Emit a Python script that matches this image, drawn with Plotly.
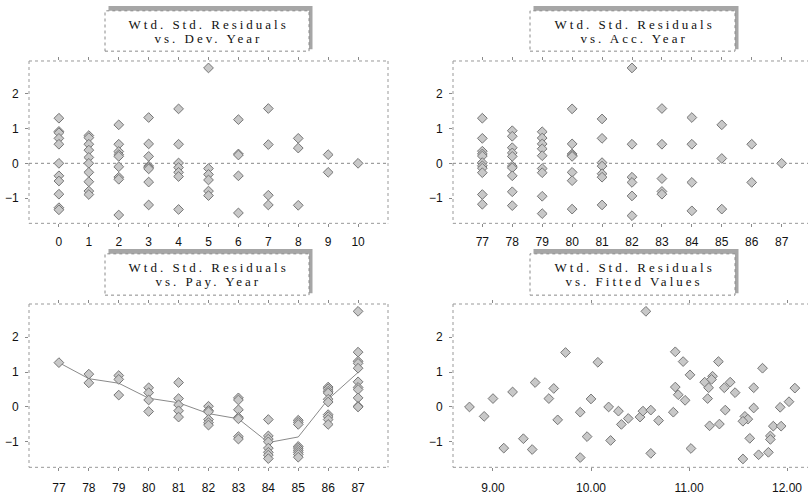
import plotly.graph_objects as go

W, H = 808, 495

# ---------------- data ----------------
dev_years = list(range(11))
dev_resid = [
    [1.30, 0.92, 0.88, 0.72, 0.55, 0.00, -0.36, -0.51, -0.89, -1.28, -1.34],
    [0.80, 0.74, 0.55, 0.38, 0.17, 0.00, -0.26, -0.53, -0.80, -0.90],
    [1.11, 0.55, 0.34, 0.25, 0.20, -0.10, -0.40, -0.46, -1.49],
    [1.32, 0.56, 0.20, -0.08, -0.12, -0.16, -0.54, -1.20],
    [1.57, 0.55, 0.01, -0.12, -0.26, -0.38, -1.33],
    [2.75, -0.15, -0.32, -0.48, -0.80, -0.93],
    [1.26, 0.27, 0.24, -0.36, -1.43],
    [1.58, 0.54, -0.92, -1.20],
    [0.72, 0.44, -1.21],
    [0.25, -0.26],
    [0.00],
]

acc_years = list(range(77, 88))
acc_resid = [
    [1.30, 0.72, 0.35, 0.27, 0.21, 0.02, -0.07, -0.14, -0.27, -0.90, -1.18],
    [0.94, 0.78, 0.45, 0.30, 0.20, -0.08, -0.13, -0.36, -0.82, -1.22],
    [0.91, 0.73, 0.56, 0.42, 0.22, -0.15, -0.27, -0.95, -1.45],
    [1.57, 0.56, 0.27, 0.23, 0.20, -0.26, -0.50, -1.32],
    [1.28, 0.72, 0.02, -0.08, -0.30, -0.40, -1.20],
    [2.75, 0.55, -0.40, -0.55, -0.94, -1.51],
    [1.58, 0.55, -0.44, -0.81, -0.89],
    [1.32, 0.55, -0.55, -1.37],
    [1.11, 0.14, -1.32],
    [0.55, -0.55],
    [0.00],
]

pay_years = list(range(77, 88))
pay_resid = [
    [1.27],
    [0.94, 0.69],
    [0.90, 0.79, 0.34],
    [0.55, 0.41, 0.20, -0.13],
    [0.70, 0.24, 0.06, -0.11, -0.29],
    [0.02, -0.10, -0.14, -0.36, -0.45, -0.52],
    [0.26, 0.20, -0.08, -0.30, -0.34, -0.85, -0.92],
    [-0.36, -0.83, -0.92, -1.00, -1.18, -1.30, -1.38, -1.48],
    [-0.38, -0.44, -0.50, -1.13, -1.18, -1.24, -1.30, -1.36, -1.44],
    [0.57, 0.52, 0.45, 0.40, 0.22, 0.14, -0.22, -0.28, -0.36, -0.50],
    [2.74, 1.57, 1.31, 1.25, 1.11, 0.72, 0.56, 0.50, 0.26, 0.02, 0.00],
]
pay_trend = [1.27, 0.81, 0.68, 0.25, 0.12, -0.19, -0.34, -1.02, -0.86, 0.22, 0.99]

fitted_vals = [
    8.76, 8.91, 9.00, 9.11, 9.20, 9.31, 9.40, 9.43, 9.57, 9.62,
    9.66, 9.74, 9.89, 9.89, 9.96, 10.00, 10.07, 10.18, 10.20, 10.28,
    10.31, 10.38, 10.50, 10.53, 10.56, 10.61, 10.61, 10.69, 10.84, 10.86,
    10.86, 10.89, 10.94, 10.96, 11.01, 11.02, 11.16, 11.20, 11.19, 11.24,
    11.23, 11.21, 11.30, 11.31, 11.36, 11.37, 11.42, 11.47,
    11.66, 11.75, 12.08, 12.02, 11.93, 11.66, 11.57, 11.60, 11.55, 11.86,
    11.94, 11.62, 11.83, 11.83, 11.71, 11.81, 11.55,
]
fitted_resid = [
    0.00, -0.27, 0.24, -1.18, 0.43, -0.91, -1.22, 0.70, 0.24, 0.53,
    -0.37, 1.56, -0.15, -1.45, -0.85, 0.23, 1.28, 0.00, -0.96, -0.12,
    -0.50, -0.33, -0.29, -0.12, 2.74, -0.09, -1.33, -0.39, -0.15, 1.58,
    0.57, 0.35, 1.30, 0.19, 0.92, -1.19, 0.71, 0.55, 0.24, 0.88,
    0.79, -0.54, 1.30, -0.49, 0.55, -0.09, 0.71, 0.41,
    0.55, 1.11, 0.54, 0.15, -0.01, -0.03, -0.27, -0.35, -0.41, -0.55,
    -0.55, -0.90, -0.83, -0.93, -1.37, -1.30, -1.49,
]

y_ticks = [-1, 0, 1, 2]
fitted_ticks = [9, 10, 11, 12]

titles = [
    ["Wtd. Std. Residuals", "vs. Dev. Year"],
    ["Wtd. Std. Residuals", "vs. Acc. Year"],
    ["Wtd. Std. Residuals", "vs. Pay. Year"],
    ["Wtd. Std. Residuals", "vs. Fitted Values"],
]

# ---------------- helpers ----------------
def px(x):
    return x / W

def py(y):
    return 1 - y / H

def expand(groups, keys):
    xs, ys = [], []
    for k, g in zip(keys, groups):
        for v in g:
            xs.append(k)
            ys.append(v)
    return xs, ys

marker = dict(symbol="diamond", size=7.5, color="#c8c8c8",
              line=dict(color="#767676", width=1))

fig = go.Figure()

dx, dy = expand(dev_resid, dev_years)
fig.add_trace(go.Scatter(x=dx, y=dy, mode="markers", marker=marker,
                         xaxis="x", yaxis="y", showlegend=False))
ax, ay = expand(acc_resid, acc_years)
fig.add_trace(go.Scatter(x=ax, y=ay, mode="markers", marker=marker,
                         xaxis="x2", yaxis="y2", showlegend=False))
fig.add_trace(go.Scatter(x=pay_years, y=pay_trend, mode="lines",
                         line=dict(color="#8a8a8a", width=1),
                         xaxis="x3", yaxis="y3", showlegend=False))
qx, qy = expand(pay_resid, pay_years)
fig.add_trace(go.Scatter(x=qx, y=qy, mode="markers", marker=marker,
                         xaxis="x3", yaxis="y3", showlegend=False))
fig.add_trace(go.Scatter(x=fitted_vals, y=fitted_resid, mode="markers", marker=marker,
                         xaxis="x4", yaxis="y4", showlegend=False))

# panel boxes in pixel coords: (left, right, top, bottom)
panels = [
    (29, 388, 62, 227),
    (453, 808, 62, 227),
    (29, 388, 309, 475),
    (453, 808, 309, 475),
]
xranges = [[-1.0, 11.0], [76.02, 87.88], [76.0, 88.0], [8.592, 12.214]]
yrange = [-1.73, 2.95]
x_standoff = [4, 4, 6, 6]

tickfont = dict(family="Liberation Sans, Arial, sans-serif", size=12, color="#111")
common = dict(showgrid=False, zeroline=False, showline=False, ticks="outside",
              ticklen=3, tickwidth=1, tickcolor="#8a8a8a", tickfont=tickfont,
              fixedrange=True)

layout = dict(width=W, height=H, margin=dict(l=0, r=0, t=0, b=0),
              paper_bgcolor="white", plot_bgcolor="white", showlegend=False)

xtickvals = [dev_years, acc_years, pay_years, fitted_ticks]
for i, (l, r, t, b) in enumerate(panels):
    n = "" if i == 0 else str(i + 1)
    xa = dict(common, domain=[px(l), px(r)], range=xranges[i], mirror="ticks",
              tickvals=xtickvals[i], anchor="y" + n, ticklabelstandoff=x_standoff[i])
    if i == 3:
        xa["tickformat"] = ".2f"
    ya = dict(common, domain=[py(b), py(t)], range=yrange, tickvals=y_ticks,
              anchor="x" + n, ticklabelstandoff=4)
    layout["xaxis" + n] = xa
    layout["yaxis" + n] = ya

border = dict(color="#999", width=1, dash="dot")
shapes = []
for i, (l, r, t, b) in enumerate(panels):
    edges = [(l, t, r, t), (l, b, r, b), (l, t, l, b)]
    if r < W:
        edges.append((r, t, r, b))
    for (x0, y0, x1, y1) in edges:
        shapes.append(dict(type="line", xref="paper", yref="paper",
                           x0=px(x0), x1=px(x1), y0=py(y0), y1=py(y1),
                           line=border, layer="below"))
# zero reference lines for the top two panels
for n in ["", "2"]:
    shapes.append(dict(type="line", xref="x" + n + " domain", yref="y" + n,
                       x0=0, x1=1, y0=0, y1=0,
                       line=dict(color="#888", width=1, dash="dot"), layer="below"))

# title boxes with shadows (pixel coords)
title_boxes = [
    (105, 309, 11, 52),
    (530, 735, 11, 52),
    (105, 309, 258, 300),
    (530, 735, 258, 300),
]
annotations = []
for (l, r, t, b), lines in zip(title_boxes, titles):
    shapes.append(dict(type="rect", xref="paper", yref="paper",
                       x0=px(l + 3.5), x1=px(r + 3.5), y0=py(b - 2), y1=py(t - 5),
                       fillcolor="#a6a6a6", line=dict(width=0)))
    shapes.append(dict(type="rect", xref="paper", yref="paper",
                       x0=px(l), x1=px(r), y0=py(b), y1=py(t),
                       fillcolor="white", line=dict(color="#8a8a8a", width=1, dash="dot")))
    cx = (l + r) / 2
    for k, txt in enumerate(lines):
        annotations.append(dict(text=txt, xref="paper", yref="paper",
                                x=px(cx + 1.5), y=py(t + 14 + 14 * k),
                                xanchor="center", yanchor="middle", showarrow=False,
                                font=dict(family="Liberation Serif, Times New Roman, serif",
                                          size=13, color="#111")))

layout["shapes"] = shapes
layout["annotations"] = annotations
fig.update_layout(**layout)

post = ("var s=document.createElement('style');"
        "s.innerHTML='body{margin:0;overflow:hidden}.annotation-text{letter-spacing:3px}';"
        "document.head.appendChild(s);")
fig.write_html("out.html", config={"displayModeBar": False}, post_script=post)
